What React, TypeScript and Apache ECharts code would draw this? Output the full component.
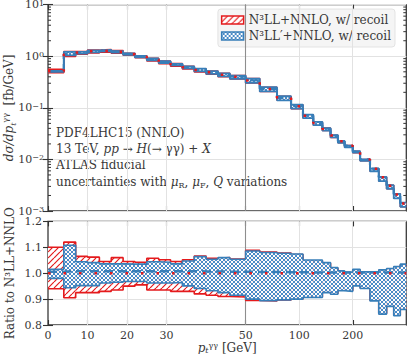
import React, { useEffect, useRef } from 'react';
import * as echarts from 'echarts';

// ---- data ----
const EDGES = [0, 4, 7, 10, 13, 16, 19, 22, 25, 28, 31, 34, 37, 40, 43, 46, 50, 60, 75, 90, 105, 120, 135, 150, 165, 180, 200, 220, 250, 280, 310, 340, 370, 400];
// N3LL+NNLO central value, dsigma/dpT [fb/GeV]
const XSEC = [0.51, 1.10, 1.18, 1.25, 1.29, 1.22, 1.10, 0.98, 0.87, 0.77, 0.69, 0.61, 0.54, 0.49, 0.44, 0.40, 0.34, 0.233, 0.156, 0.107, 0.070, 0.051, 0.039, 0.029, 0.0225, 0.0185, 0.0142, 0.0100, 0.0066, 0.0045, 0.0031, 0.0021, 0.0014];
// ratios to N3LL+NNLO central
const RED_UP = [1.100, 1.120, 1.065, 1.062, 1.045, 1.060, 1.045, 1.042, 1.058, 1.052, 1.045, 1.052, 1.066, 1.058, 1.060, 1.055, 1.088, 1.082, 1.078, 1.072, 1.048, 1.048, 1.038, 1.019, 1.006, 1.001, 1.012, 1.002, 1.002, 1.010, 1.015, 1.023, 1.032];
const RED_LO = [0.940, 0.905, 0.925, 0.925, 0.930, 0.935, 0.950, 0.955, 0.935, 0.935, 0.930, 0.930, 0.920, 0.915, 0.910, 0.908, 0.895, 0.893, 0.897, 0.900, 0.909, 0.909, 0.928, 0.922, 0.935, 0.933, 0.954, 0.944, 0.896, 0.845, 0.875, 0.839, 0.863];
const BLUE_C = [1.006, 1.008, 1.008, 1.008, 1.008, 1.008, 1.008, 1.008, 1.008, 1.008, 1.008, 1.008, 1.007, 1.007, 1.006, 1.006, 1.005, 1.005, 1.004, 1.004, 1.003, 1.003, 1.003, 1.003, 1.003, 1.003, 1.003, 1.003, 1.003, 1.003, 1.003, 1.003, 1.003];
const BLUE_UP = [1.015, 1.108, 1.044, 1.041, 1.036, 1.036, 1.035, 1.035, 1.044, 1.042, 1.036, 1.047, 1.064, 1.054, 1.060, 1.054, 1.086, 1.080, 1.077, 1.074, 1.051, 1.051, 1.041, 1.022, 1.009, 1.004, 1.015, 1.005, 1.005, 1.013, 1.018, 1.026, 1.035];
const BLUE_LO = [0.980, 0.944, 0.952, 0.952, 0.962, 0.965, 0.968, 0.968, 0.962, 0.962, 0.964, 0.951, 0.941, 0.932, 0.925, 0.915, 0.900, 0.894, 0.897, 0.900, 0.906, 0.906, 0.925, 0.919, 0.932, 0.930, 0.951, 0.941, 0.893, 0.842, 0.872, 0.836, 0.860];

const X_TICKS = [0, 10, 20, 30, 50, 100, 200];
const X_GRID = [10, 20, 30, 100, 200];
const X_BREAK_LINE = [50];
const MINOR_TICKS = [0.002, 0.003, 0.004, 0.005, 0.006, 0.007, 0.008, 0.009, 0.02, 0.03, 0.04, 0.05, 0.06, 0.07, 0.08, 0.09, 0.2, 0.3, 0.4, 0.5, 0.6, 0.7, 0.8, 0.9, 2, 3, 4, 5, 6, 7, 8, 9];

const LABEL_RED = 'N³LL+NNLO, w/ recoil';
const LABEL_BLUE = 'N³LL′+NNLO, w/ recoil';

const RED = '#e41a1c';
const BLUE = '#377eb8';
const FONT = "'DejaVu Serif', serif";
const TXT = '#383838';

// broken x scale: linear up to 50 GeV, logarithmic above
const BREAK = 50;
const K = 45; // axis units per decade above the break
const T = (p: number) => (p <= BREAK ? p : BREAK + K * Math.log10(p / BREAK));
const Tinv = (t: number) => (t <= BREAK ? t : BREAK * Math.pow(10, (t - BREAK) / K));
const X_MIN = 0;
const X_MAX = 400;

function makePattern(kind: 'hatch' | 'cross') {
  const c = document.createElement('canvas');
  const g = c.getContext('2d')!;
  if (kind === 'hatch') {
    const s = 6;
    c.width = s; c.height = s;
    g.fillStyle = '#ffffff';
    g.fillRect(0, 0, s, s);
    g.strokeStyle = RED;
    g.lineWidth = 1.2;
    g.beginPath();
    for (let k = -1; k <= 1; k++) {
      g.moveTo(k * s, s);
      g.lineTo(k * s + s, 0);
    }
    g.stroke();
    return { image: c.toDataURL(), repeat: 'repeat', imageWidth: s, imageHeight: s };
  }
  const s = 4;
  c.width = s; c.height = s;
  g.fillStyle = 'rgba(255,255,255,0.9)';
  g.fillRect(0, 0, s, s);
  g.fillStyle = '#4a8bc7';
  for (let i = 0; i < s; i++) {
    g.fillRect(i, i, 1, 1);
    g.fillRect(s - 1 - i, i, 1, 1);
  }
  return { image: c.toDataURL(), repeat: 'repeat', imageWidth: s, imageHeight: s };
}

const richFor = (lh: number) => ({
  r: { fontFamily: FONT, fontSize: 12, color: TXT, fill: TXT, lineHeight: lh },
  i: { fontFamily: FONT, fontSize: 12, fontStyle: 'italic', color: TXT, fill: TXT, lineHeight: lh },
  s: { fontFamily: FONT, fontSize: 8, color: TXT, fill: TXT, verticalAlign: 'bottom' },
  si: { fontFamily: FONT, fontSize: 8, fontStyle: 'italic', color: TXT, fill: TXT, verticalAlign: 'bottom' },
  u: { fontFamily: FONT, fontSize: 8, color: TXT, fill: TXT, verticalAlign: 'top' },
});
const RICH = richFor(16);
const RICH_X = richFor(13);

function buildOption() {
  const hatch = makePattern('hatch');
  const cross = makePattern('cross');
  const n = XSEC.length;

  const bandData = (lo: number[], hi: number[], scale: number[] | null) =>
    lo.map((l, i) => {
      const f = scale ? scale[i] : 1;
      return [T(EDGES[i]), T(EDGES[i + 1]), l * f, hi[i] * f];
    });
  const stepData = (vals: number[]) => {
    const d = vals.map((v, i) => [T(EDGES[i]), v]);
    d.push([T(EDGES[n]), vals[n - 1]]);
    return d;
  };
  const mul = (a: number[], b: number[]) => a.map((v, i) => v * b[i]);

  const band = (name: string, xi: number, yi: number, data: number[][], fill: any, z: number) => ({
    type: 'custom',
    name,
    xAxisIndex: xi,
    yAxisIndex: yi,
    z,
    silent: true,
    clip: true,
    encode: { x: [0, 1], y: [2, 3] },
    data,
    renderItem: (params: any, api: any) => {
      const a = api.coord([api.value(0), api.value(3)]);
      const b = api.coord([api.value(1), api.value(2)]);
      return {
        type: 'rect',
        shape: { x: a[0], y: a[1], width: b[0] - a[0], height: b[1] - a[1] },
        style: { fill, stroke: null },
      };
    },
  });
  const step = (name: string, xi: number, yi: number, vals: number[], color: string, width: number, type: any, z: number) => ({
    type: 'line',
    name,
    xAxisIndex: xi,
    yAxisIndex: yi,
    step: 'end',
    symbol: 'none',
    silent: true,
    z,
    lineStyle: { color, width, type, cap: 'butt' },
    data: stepData(vals),
  });
  const gridLines = (xi: number, yi: number) => ({
    type: 'line',
    xAxisIndex: xi,
    yAxisIndex: yi,
    data: [],
    silent: true,
    z: 1,
    markLine: {
      silent: true,
      symbol: 'none',
      label: { show: false },
      animation: false,
      data: [
        ...X_GRID.map((t) => ({ xAxis: T(t), lineStyle: { color: '#e2e2e2', width: 1, type: 'solid' } })),
        ...X_BREAK_LINE.map((t) => ({ xAxis: T(t), lineStyle: { color: '#8e8e8e', width: 1.1, type: 'solid' } })),
      ],
    },
  });

  const ones = XSEC.map((v) => v / v);
  const tick = (len: number) => ({ show: true, inside: true, length: len, lineStyle: { color: '#333', width: 1.1 } });
  const xTicks = X_TICKS.map(T);
  const xBase = {
    type: 'value',
    min: T(X_MIN),
    max: T(X_MAX),
    axisLine: { show: false },
    splitLine: { show: false },
  };

  const series: any[] = [
    gridLines(0, 0),
    gridLines(2, 2),
    // minor ticks of the log axis (both sides)
    {
      type: 'custom',
      xAxisIndex: 0,
      yAxisIndex: 0,
      z: 3,
      silent: true,
      clip: false,
      encode: { x: 0, y: 1 },
      data: MINOR_TICKS.map((v) => [T(X_MIN), v]),
      renderItem: (params: any, api: any) => {
        const p = api.coord([api.value(0), api.value(1)]);
        const cs = params.coordSys;
        const st = { stroke: '#333', lineWidth: 1 };
        return {
          type: 'group',
          children: [
            { type: 'line', shape: { x1: cs.x, y1: p[1], x2: cs.x + 3, y2: p[1] }, style: st },
            { type: 'line', shape: { x1: cs.x + cs.width - 3, y1: p[1], x2: cs.x + cs.width, y2: p[1] }, style: st },
          ],
        };
      },
    },
    // ---- top panel ----
    band(LABEL_RED, 0, 0, bandData(RED_LO, RED_UP, XSEC), 'rgba(228,26,28,0.35)', 10),
    step(LABEL_RED, 0, 0, mul(XSEC, RED_UP), RED, 1.5, 'solid', 11),
    step(LABEL_RED, 0, 0, mul(XSEC, RED_LO), RED, 1.5, 'solid', 11),
    band(LABEL_BLUE, 0, 0, bandData(BLUE_LO, BLUE_UP, XSEC), cross, 12),
    step(LABEL_BLUE, 0, 0, mul(XSEC, BLUE_UP), BLUE, 1.8, 'solid', 13),
    step(LABEL_BLUE, 0, 0, mul(XSEC, BLUE_LO), BLUE, 1.8, 'solid', 13),
    step(LABEL_BLUE, 0, 0, mul(XSEC, BLUE_C), BLUE, 2.2, [9, 5], 14),
    step(LABEL_RED, 0, 0, XSEC, RED, 2.5, [2.5, 13], 15),
    // ---- ratio panel ----
    band(LABEL_RED, 2, 2, bandData(RED_LO, RED_UP, null), hatch, 10),
    step(LABEL_RED, 2, 2, RED_UP, RED, 1.6, 'solid', 11),
    step(LABEL_RED, 2, 2, RED_LO, RED, 1.6, 'solid', 11),
    band(LABEL_BLUE, 2, 2, bandData(BLUE_LO, BLUE_UP, null), cross, 12),
    step(LABEL_BLUE, 2, 2, BLUE_UP, BLUE, 1.6, 'solid', 13),
    step(LABEL_BLUE, 2, 2, BLUE_LO, BLUE, 1.6, 'solid', 13),
    step(LABEL_BLUE, 2, 2, BLUE_C, BLUE, 2.5, [9, 5], 14),
    step(LABEL_RED, 2, 2, ones, RED, 2.5, [2.5, 13], 15),
  ];

  const expLabel = (v: number) => {
    const e = Math.round(Math.log10(v));
    return `{b|10}{e|${e < 0 ? '−' + -e : e}}`;
  };

  return {
    animation: false,
    backgroundColor: '#ffffff',
    textStyle: { fontFamily: FONT },
    grid: [
      { left: 48, right: 1.7, top: 4.7, height: 206.3, show: true, borderColor: '#3a3a3a', borderWidth: 1.3, backgroundColor: 'transparent', containLabel: false, outerBoundsMode: 'none' },
      { left: 48, right: 1.7, top: 221.4, height: 103.6, show: true, borderColor: '#3a3a3a', borderWidth: 1.3, backgroundColor: 'transparent', containLabel: false, outerBoundsMode: 'none' },
    ],
    legend: {
      orient: 'vertical',
      right: 13,
      top: 9,
      selectedMode: false,
      itemWidth: 22,
      itemHeight: 8,
      itemGap: 4,
      padding: [5, 4, 5, 3],
      backgroundColor: 'rgba(244,244,244,0.92)',
      borderColor: '#dddddd',
      borderWidth: 0.8,
      borderRadius: 3,
      textStyle: { fontFamily: FONT, fontSize: 12, color: TXT },
      data: [
        { name: LABEL_RED, icon: 'rect', itemStyle: { color: hatch, borderColor: RED, borderWidth: 1.5 } },
        { name: LABEL_BLUE, icon: 'rect', itemStyle: { color: cross, borderColor: BLUE, borderWidth: 1.5 } },
      ],
    },
    xAxis: [
      { ...xBase, gridIndex: 0, position: 'bottom', axisTick: { ...tick(5), customValues: xTicks }, axisLabel: { show: false } },
      { ...xBase, gridIndex: 0, position: 'top', axisTick: { ...tick(5), customValues: xTicks }, axisLabel: { show: false } },
      {
        ...xBase,
        gridIndex: 1,
        position: 'bottom',
        axisTick: { ...tick(5), customValues: xTicks },
        axisLabel: {
          customValues: xTicks,
          formatter: (v: number) => String(Math.round(Tinv(v))),
          fontFamily: FONT,
          fontSize: 11,
          lineHeight: 12,
          color: TXT,
          margin: 4,
        },
        name: '{i|p}{si|t}{u|γγ}{r| [GeV]}',
        nameLocation: 'middle',
        nameGap: 16,
        nameMoveOverlap: false,
        nameTextStyle: { fontFamily: FONT, fontSize: 12, color: TXT, rich: RICH_X },
      },
      { ...xBase, gridIndex: 1, position: 'top', axisTick: { ...tick(5), customValues: xTicks }, axisLabel: { show: false } },
    ],
    yAxis: [
      {
        type: 'log',
        logBase: 10,
        gridIndex: 0,
        min: 0.001,
        max: 10,
        position: 'left',
        axisLine: { show: false },
        axisTick: tick(5),
        minorTick: { show: false },
        splitLine: { show: true, lineStyle: { color: '#e2e2e2', width: 1 } },
        axisLabel: {
          formatter: expLabel,
          margin: 4,
          rich: {
            b: { fontFamily: FONT, fontSize: 11, color: TXT, lineHeight: 11, verticalAlign: 'bottom' },
            e: { fontFamily: FONT, fontSize: 8, color: TXT, verticalAlign: 'top' },
          },
        },
        name: '{i|dσ/dp}{si|t}{u|γγ}{r|  [fb/GeV]}',
        nameLocation: 'middle',
        nameGap: 31,
        nameMoveOverlap: false,
        nameTextStyle: { fontFamily: FONT, fontSize: 12, color: TXT, rich: RICH },
      },
      {
        type: 'log',
        logBase: 10,
        gridIndex: 0,
        min: 0.001,
        max: 10,
        position: 'right',
        axisLine: { show: false },
        axisTick: tick(5),
        splitLine: { show: false },
        axisLabel: { show: false },
      },
      {
        type: 'value',
        gridIndex: 1,
        min: 0.8,
        max: 1.2,
        interval: 0.1,
        position: 'left',
        axisLine: { show: false },
        axisTick: tick(5),
        splitLine: { show: true, lineStyle: { color: '#e2e2e2', width: 1 } },
        axisLabel: { formatter: (v: number) => v.toFixed(1), fontFamily: FONT, fontSize: 11, lineHeight: 10, color: TXT, margin: 6 },
        name: 'Ratio to N³LL+NNLO',
        nameLocation: 'middle',
        nameGap: 32,
        nameMoveOverlap: false,
        nameTextStyle: { fontFamily: FONT, fontSize: 12, color: TXT },
      },
      {
        type: 'value',
        gridIndex: 1,
        min: 0.8,
        max: 1.2,
        interval: 0.1,
        position: 'right',
        axisLine: { show: false },
        axisTick: tick(5),
        splitLine: { show: false },
        axisLabel: { show: false },
      },
    ],
    graphic: {
      elements: [
        { type: 'text', x: 56, y: 132.5, silent: true, style: { text: 'PDF4LHC15 (NNLO)', fontFamily: FONT, fontSize: 12, fill: TXT, verticalAlign: 'middle', rich: RICH } },
        { type: 'text', x: 56, y: 149, silent: true, style: { text: '{r|13 TeV, }{i|pp}{r| → }{i|H}{r|(→ γγ) + }{i|X}', fontFamily: FONT, fontSize: 12, fill: TXT, verticalAlign: 'middle', rich: RICH } },
        { type: 'text', x: 56, y: 165, silent: true, style: { text: 'ATLAS fiducial', fontFamily: FONT, fontSize: 12, fill: TXT, verticalAlign: 'middle', rich: RICH } },
        { type: 'text', x: 56, y: 181.5, silent: true, style: { text: '{r|uncertainties with }{i|μ}{s|R}{r|, }{i|μ}{s|F}{r|, }{i|Q}{r| variations}', fontFamily: FONT, fontSize: 12, fill: TXT, verticalAlign: 'middle', rich: RICH } },
      ],
    },
    series,
  };
}

export default function App() {
  const ref = useRef<HTMLDivElement>(null);
  useEffect(() => {
    if (!ref.current) return;
    const chart = echarts.init(ref.current, null, { renderer: 'svg' });
    chart.setOption(buildOption() as any);
    return () => chart.dispose();
  }, []);
  return <div ref={ref} style={{ position: 'fixed', left: 0, top: 0, width: 408, height: 354 }} />;
}
